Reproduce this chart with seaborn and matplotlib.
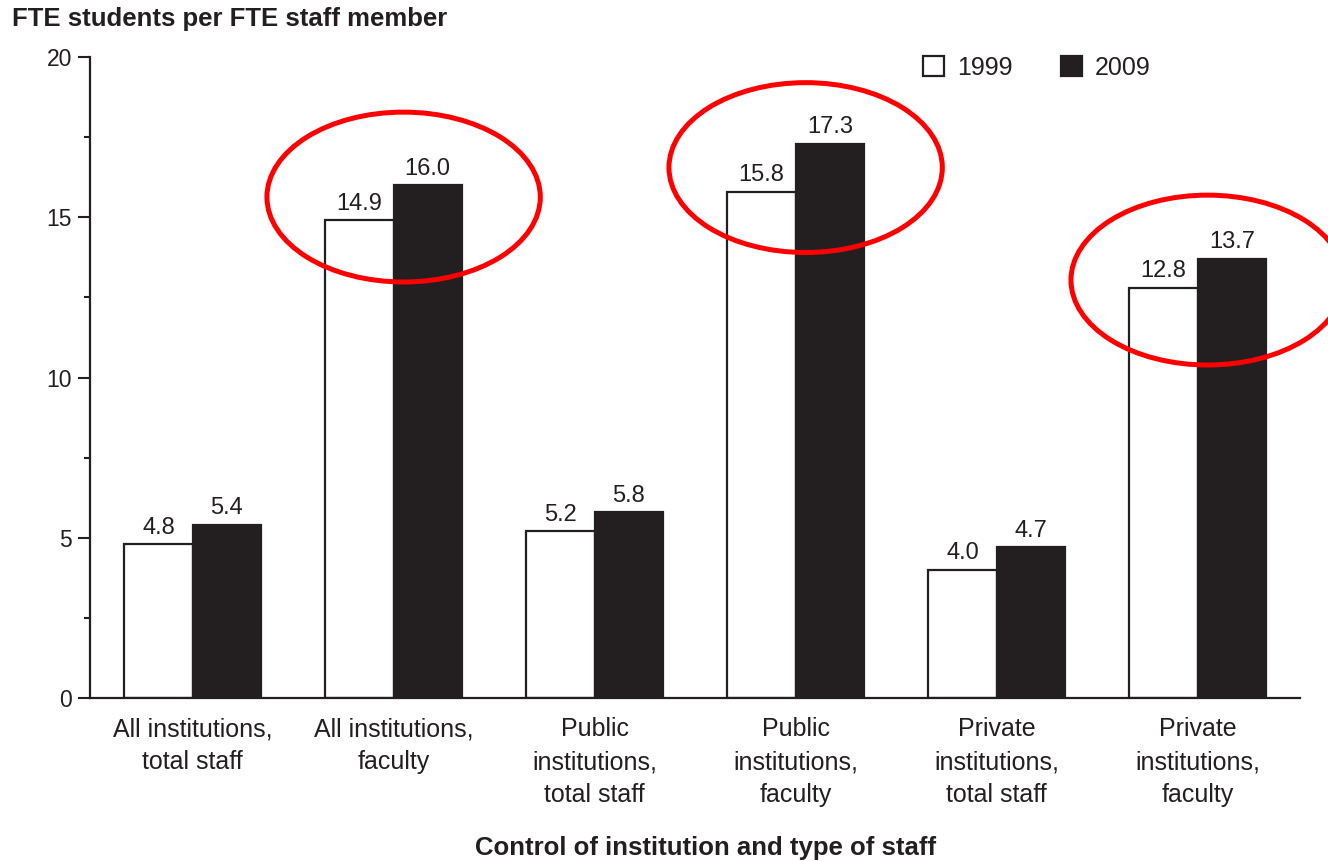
"""
FTE students per FTE staff member, 1999 vs 2009, by control of institution
"""

import numpy as np
import pandas as pd
import seaborn as sns
import matplotlib.pyplot as plt
from matplotlib.patches import Ellipse, Patch
from matplotlib.ticker import MultipleLocator

# data
categories = ["All institutions,\ntotal staff", "All institutions,\nfaculty",
              "Public\ninstitutions,\ntotal staff", "Public\ninstitutions,\nfaculty",
              "Private\ninstitutions,\ntotal staff", "Private\ninstitutions,\nfaculty"]
years = ["1999", "2009"]
vals1999 = [4.8, 14.9, 5.2, 15.8, 4.0, 12.8]
vals2009 = [5.4, 16.0, 5.8, 17.3, 4.7, 13.7]
circled = [1, 3, 5]  # faculty groups get the red ring
ringDrop = [0.37, 0.75, 0.66]  # how far each ring centre sits below the taller bar

dat = pd.DataFrame({
    "category": categories * 2,
    "year": [years[0]] * len(categories) + [years[1]] * len(categories),
    "value": vals1999 + vals2009,
})

dark = "#231f20"
plt.rcParams["font.family"] = ["Liberation Sans", "DejaVu Sans"]

fig = plt.figure(figsize=(13.28, 8.61), dpi=100)
ax = fig.add_axes([0.0678, 0.1893, 0.9112, 0.7445])

sns.barplot(data=dat, x="category", y="value", hue="year", ax=ax,
            palette={"1999": "white", "2009": dark}, saturation=1,
            edgecolor=dark, linewidth=1.6, width=0.68, legend=False)

for cont in ax.containers:
    ax.bar_label(cont, fmt="%.1f", padding=4, fontsize=17, color=dark)

# red rings round the faculty groups
for ii, drop in zip(circled, ringDrop):
    top = max(vals1999[ii], vals2009[ii])
    ax.add_patch(Ellipse((ii + 0.05, top - drop), 1.36, 5.3, fill=False,
                         edgecolor="red", linewidth=3.6, clip_on=False, zorder=5))

ax.set_xlim(-0.51, 5.51)
ax.set_ylim(0, 20)
ax.yaxis.set_major_locator(MultipleLocator(5))
ax.yaxis.set_minor_locator(MultipleLocator(2.5))
ax.tick_params(axis="y", which="major", length=9, width=1.5, pad=4,
               labelsize=16.5, color=dark, labelcolor=dark)
ax.tick_params(axis="y", which="minor", length=4.5, width=1.5, color=dark)
ax.tick_params(axis="x", length=0, pad=14, labelsize=18, labelcolor=dark)
for lab in ax.get_xticklabels():
    lab.set_linespacing(1.45)

for s in ["top", "right"]:
    ax.spines[s].set_visible(False)
for s in ["left", "bottom"]:
    ax.spines[s].set_linewidth(1.6)
    ax.spines[s].set_color(dark)

ax.set_ylabel("")
ax.set_xlabel("")
fig.text(0.531, 0.0151, "Control of institution and type of staff", fontsize=18.5,
         fontweight="bold", color=dark, ha="center", va="center")

fig.text(0.009, 0.978, "FTE students per FTE staff member", fontsize=18.5,
         fontweight="bold", color=dark, ha="left", va="center")

handles = [Patch(facecolor="white", edgecolor=dark, linewidth=1.6),
           Patch(facecolor=dark, edgecolor=dark, linewidth=1.6)]
fig.legend(handles, years, ncol=2, frameon=False, fontsize=18,
           handlelength=0.85, handleheight=0.85, handletextpad=0.5,
           columnspacing=1.95, loc="center left",
           bbox_to_anchor=(0.678, 0.921), labelcolor=dark)

plt.savefig("out.png", dpi=100)
